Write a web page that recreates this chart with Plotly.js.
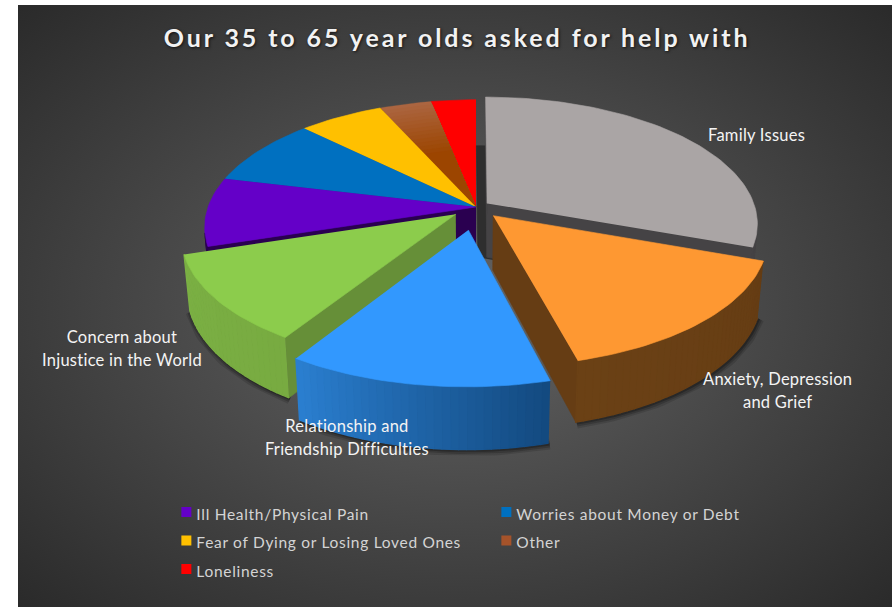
<!DOCTYPE html>
<html>
<head>
<meta charset="utf-8">
<script src="https://cdn.plot.ly/plotly-3.0.1.min.js"></script>
<style>
  html, body { margin: 0; padding: 0; background: #fff; overflow: hidden; }
  #backdrop { position: absolute; left: 18px; top: 5px; width: 874px; height: 602px;
    background: radial-gradient(ellipse farthest-corner at 50% 50%, #646464 0%, #2a2a2a 100%); }
  #chart { position: absolute; left: 0; top: 0; width: 892px; height: 607px; }
  .gtitle { letter-spacing: 2.9px; }
  .legendtext { letter-spacing: 0.7px; transform: translateX(-10px); }
  .annotation-text { letter-spacing: 0.25px; }
</style>
</head>
<body>
<div id="backdrop"></div>
<div id="chart"></div>
<script>
// Percent share of each topic, clockwise from twelve o'clock.
const sliceNames = ['Family Issues', 'Anxiety, Depression and Grief', 'Relationship and Friendship Difficulties',
  'Concern about Injustice in the World', 'Ill Health/Physical Pain', 'Worries about Money or Debt',
  'Fear of Dying or Losing Loved Ones', 'Other', 'Loneliness'];
const sliceValues = [30.5, 15.4, 13.1, 11.1, 8.7, 8.6, 5.9, 3.6, 3.1];
const slicePull = [0.05, 0.092, 0.179, 0.093, 0, 0, 0, 0, 0];

const topColors = ['#aaa5a5', '#fe9832', '#3298fe', '#8ccc4c', '#6400c8', '#0070c0', '#ffc000', '#9c4500', '#ff0000'];
const rimColors = [null, null, null, null, null, null, null, '#ab6540', null];
const cutColors = ['#454345', '#663d14', '#1c5a99', '#668f38', '#2a0050', '#003a66', '#806000', '#4e2200', '#800000'];
const wallStart = ['#454345', '#663d14', '#134a80', '#78ab41', '#2a0050', '#003a66', '#806000', '#4e2200', '#800000'];
const wallEnd = ['#454345', '#6b4115', '#2b80d2', '#7bb044', '#2a0050', '#003a66', '#806000', '#4e2200', '#800000'];

// Only the smaller topics have legend entries; the large ones carry direct labels.
const legendIndex = [4, 5, 6, 7, 8];
const legendSwatch = ['#6400c8', '#0070c0', '#ffc000', '#a5532a', '#ff0000'];

const titleText = 'Our 35 to 65 year olds asked for help with';

// Tilted-disc projection into the chart's axes.
const view = { cx: 476, cy: 207, rx: 272, ry: 126, depth: 54, persp: 0.16, radius: 0.985, shrink: 0.02 };

function project(X, Y, z) {
  const p = 1 / (1 - view.persp * Y);
  return [view.cx + view.rx * X * p * (1 - view.shrink * z),
          view.cy + view.ry * Y * p * (1 - 0.02 * z) + view.depth * z * p];
}
function hex(c) { return [1, 3, 5].map(i => parseInt(c.substr(i, 2), 16)); }
function mix(a, b, t) {
  const A = hex(a), B = hex(b);
  return 'rgb(' + A.map((v, i) => Math.round(v + (B[i] - v) * t)).join(',') + ')';
}
function polygon(pts, color, edge) {
  return { type: 'scatter', mode: 'lines', x: pts.map(q => q[0]), y: pts.map(q => q[1]),
    fill: 'toself', fillcolor: color, line: { color: color, width: edge || 0.6 },
    hoverinfo: 'skip', showlegend: false };
}
function isFacing(a, b, c, d) {
  const q = [a, b, c, d];
  let area = 0;
  for (let i = 0; i < 4; i++) {
    const n = q[(i + 1) % 4];
    area += q[i][0] * n[1] - n[0] * q[i][1];
  }
  return area < -0.5;
}

const total = sliceValues.reduce((s, v) => s + v, 0);
const geometry = [];
let running = 0;
sliceValues.forEach((v, i) => {
  const a0 = running / total * 2 * Math.PI;
  running += v;
  const a1 = running / total * 2 * Math.PI;
  const mid = (a0 + a1) / 2;
  geometry.push({ a0, a1, ox: slicePull[i] * Math.sin(mid), oy: -slicePull[i] * Math.cos(mid) });
});

function sliceTraces(i) {
  const g = geometry[i], out = [];
  const rim = (a, r) => [g.ox + r * Math.sin(a), g.oy - r * Math.cos(a)];
  const steps = Math.max(4, Math.ceil((g.a1 - g.a0) / (Math.PI / 120)));
  const angles = [];
  for (let k = 0; k <= steps; k++) angles.push(g.a0 + (g.a1 - g.a0) * k / steps);
  const at = (w, z) => project(w[0], w[1], z);
  const hub = [g.ox, g.oy];

  // Soft contact shadow along the lower rim of the raised slices.
  if (slicePull[i] > 0.06) {
    [[11, 0.13], [7, 0.18], [3, 0.25]].forEach(([w, alpha]) => {
      const pts = angles.map(a => at(rim(a, view.radius), 1));
      out.push({ type: 'scatter', mode: 'lines', x: pts.map(q => q[0] + 1), y: pts.map(q => q[1] + 1),
        line: { color: 'rgba(0,0,0,' + alpha + ')', width: w }, hoverinfo: 'skip', showlegend: false });
    });
  }
  // Shadow cast to the left of the largest slice.
  if (i === 0) {
    const pts = [hub].concat(angles.map(a => rim(a, view.radius))).map(w => at(w, 1));
    out.push(polygon(pts.map(q => [q[0] - 9, q[1]]), '#2e2e2e'));
  }
  // Cut faces, then the outer wall, then the flat top.
  const first = rim(g.a0, view.radius), last = rim(g.a1, view.radius);
  [[hub, first], [last, hub]].forEach(([P, Q]) => {
    const a = at(P, 0), b = at(Q, 0), c = at(Q, 1), d = at(P, 1);
    if (isFacing(a, b, c, d)) out.push(polygon([a, b, c, d], cutColors[i]));
  });
  for (let k = 0; k < steps; k++) {
    const P = rim(angles[k], view.radius), Q = rim(angles[k + 1], view.radius);
    const a = at(P, 0), b = at(Q, 0), c = at(Q, 1), d = at(P, 1);
    if (isFacing(a, b, c, d)) out.push(polygon([a, b, c, d], mix(wallStart[i], wallEnd[i], k / steps), 1.4));
  }
  const sector = r => [at(hub, 0)].concat(angles.map(a => at(rim(a, r), 0)));
  if (rimColors[i]) {
    const bands = 14;
    for (let b = 0; b <= bands; b++) {
      out.push(polygon(sector(view.radius * (1 - 0.5 * b / bands)), mix(rimColors[i], topColors[i], b / bands), 0.3));
    }
  } else {
    out.push(polygon(sector(view.radius), topColors[i]));
  }
  return out;
}

// Painter's order: the flat back slices first, raised front slices last.
const drawOrder = [8, 7, 6, 5, 4, 0, 3, 1, 2];
const traces = [];
drawOrder.forEach(i => sliceTraces(i).forEach(t => traces.push(t)));

legendIndex.forEach((s, k) => {
  traces.push({ type: 'scatter', mode: 'markers', x: [null], y: [null],
    name: '<span style="font-size:15.5px">' + sliceNames[s] + '</span>',
    marker: { symbol: 'square', size: 10, color: legendSwatch[k] }, hoverinfo: 'skip' });
});

function label(x, y, lines) {
  return { xref: 'x', yref: 'y', x: x, y: y, xanchor: 'center', yanchor: 'middle', showarrow: false,
    align: 'center', font: { family: 'Lato, sans-serif', size: 17.7, color: '#f4f4f4' },
    text: lines.map(t => '<span style="font-size:16.5px">' + t + '</span>').join('<br>') };
}

const layout = {
  width: 892, height: 607,
  margin: { l: 0, r: 0, t: 0, b: 0, autoexpand: false },
  paper_bgcolor: 'rgba(0,0,0,0)', plot_bgcolor: 'rgba(0,0,0,0)',
  title: { text: titleText, x: 0.5125, xanchor: 'center', xref: 'paper', y: 0.9375, yanchor: 'middle', yref: 'paper',
    font: { family: 'Lato, sans-serif', size: 25, weight: 700, color: '#f2f2f2', shadow: '1px 1px 3px rgba(0,0,0,0.7)' } },
  xaxis: { range: [0, 892], visible: false, fixedrange: true },
  yaxis: { range: [607, 0], visible: false, fixedrange: true },
  showlegend: true,
  legend: { orientation: 'h', x: 0.1865, xanchor: 'left', y: 0.1885, yanchor: 'top', traceorder: 'normal',
    entrywidth: 275, entrywidthmode: 'pixels', bgcolor: 'rgba(0,0,0,0)',
    font: { family: 'Lato, sans-serif', size: 19.7, color: '#d4d4d4' } },
  annotations: [
    label(756, 135, ['Family Issues']),
    label(777, 390, ['Anxiety, Depression', 'and Grief']),
    label(347, 437, ['Relationship and', 'Friendship Difficulties']),
    label(122, 348, ['Concern about', 'Injustice in the World']),
    { xref: 'x', yref: 'y', x: -1, y: 404, xanchor: 'left', yanchor: 'middle', showarrow: false,
      font: { family: 'Lato, sans-serif', size: 19, color: '#222' }, text: 's' }
  ]
};

Plotly.newPlot('chart', traces, layout, { displayModeBar: false, staticPlot: true });
</script>
</body>
</html>
